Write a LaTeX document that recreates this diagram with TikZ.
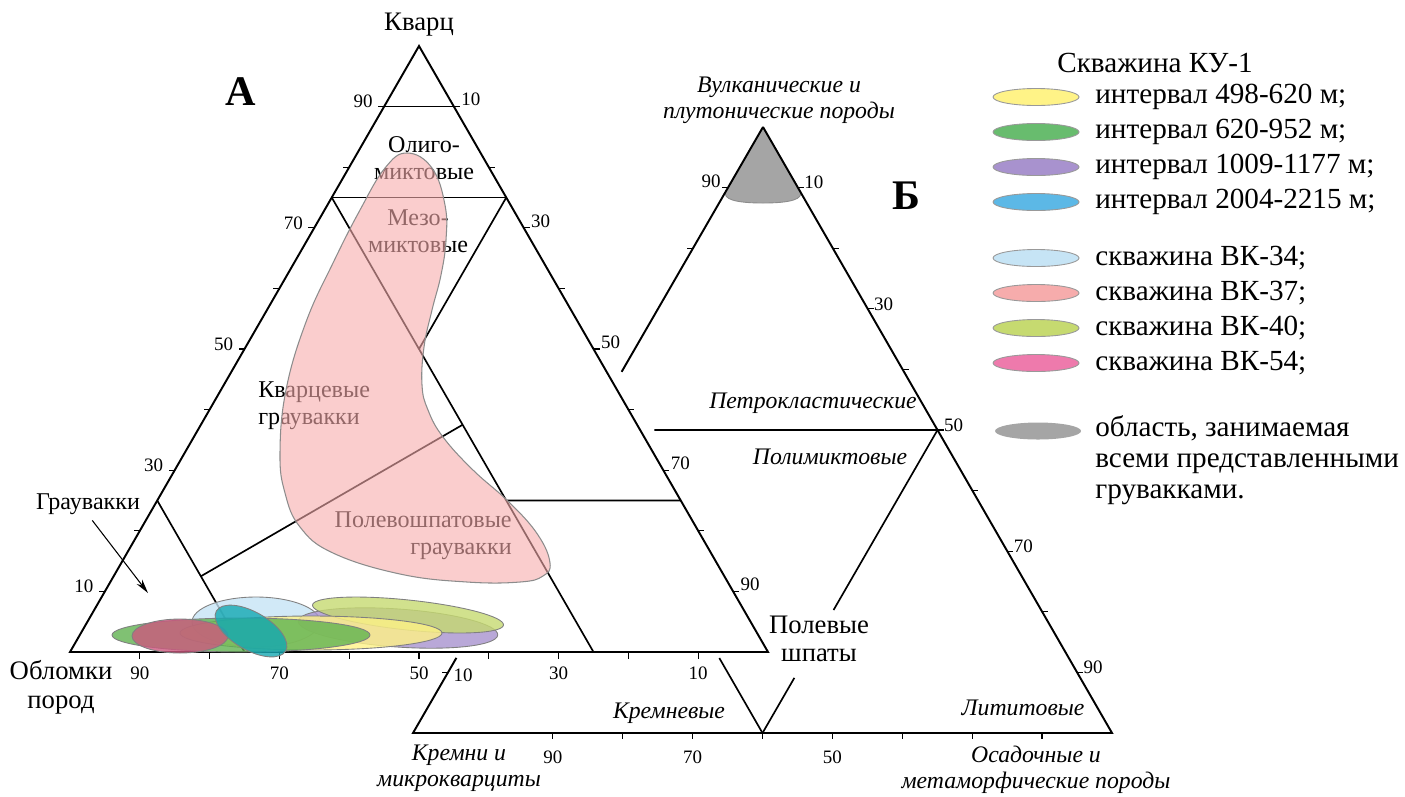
\documentclass[tikz,border=0pt]{standalone}
\usepackage{fontspec}
\setmainfont{Liberation Serif}
\usetikzlibrary{calc,arrows.meta}

\definecolor{ku498}{RGB}{255,243,135}
\definecolor{ku620}{RGB}{104,188,110}
\definecolor{ku1009}{RGB}{168,146,206}
\definecolor{ku2004}{RGB}{92,184,230}
\definecolor{vk34}{RGB}{198,228,245}
\definecolor{vk37}{RGB}{246,172,172}
\definecolor{vk40}{RGB}{198,218,112}
\definecolor{vk54}{RGB}{238,122,172}
\definecolor{allgw}{RGB}{165,165,165}
% tints as they show over the other fields
\definecolor{ku620d}{RGB}{96,178,80}
\definecolor{ku2004d}{RGB}{20,168,178}
\definecolor{vk54d}{RGB}{204,88,126}

\begin{document}
\begin{tikzpicture}[x=0.02cm, y=-0.02cm,
  edge/.style={line width=1.1pt},
  zone/.style={line width=0.95pt},
  tick/.style={line width=0.7pt},
  num/.style={font=\fontsize{10.8}{12}\selectfont, inner sep=0pt},
  field/.style={font=\fontsize{13.7}{15.4}\selectfont, inner sep=0pt},
  corner/.style={font=\fontsize{15.2}{16.3}\selectfont, align=center, inner sep=0pt},
  ital/.style={font=\fontsize{13.5}{15}\selectfont\itshape, align=center, inner sep=0pt},
  leg/.style={font=\fontsize{16.6}{17.5}\selectfont, anchor=west, align=left, inner sep=0pt},
  swatch/.style={draw=black!40, line width=0.5pt},
  blob/.style={draw=black!50, line width=0.5pt, fill opacity=0.8},
  arr/.style={-{Stealth[length=8pt, width=4pt]}, line width=0.6pt, shorten <=4pt}
]
\useasboundingbox (0,0) rectangle (1405,796);

% triangle B (behind A)
\coordinate (Bv) at (763,127);
\coordinate (Bk) at (413,733);
\coordinate (Bs) at (1112,733);
\coordinate (B50l) at ($(Bv)!0.5!(Bk)$);
\coordinate (B50r) at ($(Bv)!0.5!(Bs)$);
\coordinate (Bm) at ($(Bk)!0.5!(Bs)$);
\filldraw[fill=allgw, draw=black!45, line width=0.5pt]
  (Bv) -- (726,191) .. controls (722,199) and (735,203) .. (763,203)
  .. controls (791,203) and (804,199) .. (800,191) -- cycle;
\draw[edge] (Bv) -- (Bs) -- (Bk) -- ($(Bk)!0.124!(Bv)$);
\draw[edge] (Bv) -- ($(Bv)!0.404!(Bk)$);
\draw[zone] ($(B50l)!0.19!(B50r)$) -- (B50r);
\draw[zone] (B50r) -- ($(B50r)!0.594!(Bm)$);
\draw[zone] ($(B50r)!0.818!(Bm)$) -- (Bm);
\draw[zone] (Bm) -- ($(Bm)!0.2475!(B50l)$);

% triangle A
\coordinate (Aq) at (419,46);
\coordinate (Ar) at (70,652);
\coordinate (Af) at (768,652);
\draw[edge] (Aq) -- (Ar) -- (Af) -- cycle;
\coordinate (A75l) at ($(Aq)!0.25!(Ar)$);
\coordinate (A75r) at ($(Aq)!0.25!(Af)$);
\coordinate (A75b) at ($(Ar)!0.75!(Af)$);
\coordinate (A25l) at ($(Aq)!0.75!(Ar)$);
\coordinate (A25r) at ($(Aq)!0.75!(Af)$);
\coordinate (A25b) at ($(Ar)!0.25!(Af)$);
\draw[zone] ($(Aq)!0.1!(Ar)$) -- ($(Aq)!0.1!(Af)$);
\draw[zone] (A75l) -- (A75r);
\draw[zone] (A75l) -- (A75b);
\draw[zone] (A75r) -- ($(A75l)!1/3!(A75b)$);
\draw[zone] (A25l) -- (A25b);
\draw[zone] ($(A75l)!0.5!(A75b)$) -- ($(A25l)!0.5!(A25b)$);
\draw[zone] ($(A75l)!2/3!(A75b)$) -- (A25r);

% ticks of A
\foreach \i in {1,...,9}{
  \coordinate (al\i) at ($(Aq)!\i/10!(Ar)$);
  \coordinate (ar\i) at ($(Aq)!\i/10!(Af)$);
  \coordinate (ab\i) at ($(Ar)!\i/10!(Af)$);
  \draw[tick] (al\i) -- ++(-6,0);
  \draw[tick] (ar\i) -- ++(6,0);
  \draw[tick] (ab\i) -- ++(0,7);
}
\foreach \i/\v in {1/90,3/70,5/50,7/30,9/10}{
  \node[num] (alab\v) at ($(al\i)+(-21,-5)$) {\v};
  \node[num] (blab\v) at ($(ab\i)+(0,21)$) {\v};
}
\foreach \i/\v in {1/10,3/30,5/50,7/70,9/90}
  \node[num] (arlab\v) at ($(ar\i)+(17,-7)$) {\v};

% ticks of B
\foreach \i in {1,...,9}{
  \coordinate (br\i) at ($(Bv)!\i/10!(Bs)$);
  \draw[tick] (br\i) -- ++(6,0);
}
\foreach \i/\v in {1/10,3/30,5/50,7/70,9/90}
  \node[num] (brlab\v) at ($(br\i)+(16,-5)$) {\v};
\foreach \i in {2,...,9}{
  \coordinate (bb\i) at ($(Bk)!\i/10!(Bs)$);
  \draw[tick] (bb\i) -- ++(0,6);
}
\foreach \i/\v in {2/90,4/70,6/50}
  \node[num] (bblab\v) at ($(bb\i)+(0,24)$) {\v};
\foreach \i in {1,2,9}{
  \coordinate (bl\i) at ($(Bv)!\i/10!(Bk)$);
  \draw[tick] (bl\i) -- ++(-6,0);
}
\node[num] (bllab90) at ($(bl1)+(-17,-6)$) {90};
\node[num] (bllab10) at ($(bl9)+(15,3)$) {10};

% field names of A
\node[field, align=center] (olig) at (424,158) {Олиго-\\миктовые};
\node[field, align=center] (mezo) at (418,231) {Мезо-\\миктовые};
\node[field, align=left, anchor=west] (qgw) at (258,406) {Кварцевые\\граувакки};
\node[field, align=right, anchor=east] (fgw) at (512,536) {Полевошпатовые\\граувакки};
\node[field] (grw) at (88,504) {Граувакки};
\coordinate (grwtip) at (148,593);
\draw[arr] (grw.south) -- (grwtip);

% corners
\node[corner] (quartz) at (419,25) {Кварц};
\node[corner] (debris) at (61,687) {Обломки\\пород};
\node[corner] (fsp) at (819,639) {Полевые\\шпаты};
\node[font=\fontsize{24}{24}\selectfont\bfseries] (labA) at (241,92) {А};
\node[font=\fontsize{24}{24}\selectfont\bfseries] (labB) at (906,196) {Б};

% fields and corners of B
\node[ital] (volc) at (779,100) {Вулканические и\\плутонические породы};
\node[ital] (chert) at (459,768) {Кремни и\\микрокварциты};
\node[ital] (sedm) at (1036,770) {Осадочные и\\метаморфические породы};
\node[ital] (petro) at (813,403) {Петрокластические};
\node[ital] (polym) at (830,457) {Полимиктовые};
\node[ital] (kremn) at (669,713) {Кремневые};
\node[ital] (litit) at (1023,708) {Лититовые};

% sample fields
\filldraw[fill=vk37, fill opacity=0.6, draw=black!45, line width=0.6pt]
  plot[smooth cycle, tension=0.7] coordinates {
  (407,153) (432,168) (445,205) (446,240) (441,275) (432,310) (424,347)
  (422,385) (428,410) (443,437) (473,470) (510,503) (538,535) (550,563)
  (543,576) (520,582) (467,582) (400,574) (333,553) (300,527) (285,493)
  (280,453) (286,390) (306,322) (333,263) (360,210) (385,168)};
\begin{scope}[blob]
  \filldraw[fill=vk34] (256,622) ellipse [x radius=64, y radius=25];
  \filldraw[fill=ku1009, rotate around={-4:(398,628)}] (398,628) ellipse [x radius=100, y radius=19];
  \filldraw[fill=vk40, rotate around={-6:(408,615)}] (408,615) ellipse [x radius=96, y radius=15];
  \filldraw[fill=ku498] (311,633) ellipse [x radius=131, y radius=17];
  \filldraw[fill=ku620d] (241,635) ellipse [x radius=129, y radius=17];
  \filldraw[fill=vk54d] (180,636) ellipse [x radius=48, y radius=17];
  \filldraw[fill=ku2004d, rotate around={-30:(251,631)}] (251,631) ellipse [x radius=40, y radius=19];
\end{scope}

% legend
\node[leg] (wellku) at (1057,63) {Скважина КУ-1};
\foreach \yy/\c/\t in {97/ku498/интервал 498-620 м;, 132/ku620/интервал 620-952 м;,
    167/ku1009/интервал 1009-1177 м;, 202/ku2004/интервал 2004-2215 м;,
    258/vk34/скважина ВК-34;, 293/vk37/скважина ВК-37;,
    328/vk40/скважина ВК-40;, 363/vk54/скважина ВК-54;}{
  \filldraw[swatch, fill=\c] (1036,\yy) ellipse [x radius=43, y radius=8.5];
  \node[leg] (leg\yy) at (1095,\yy) {\t};
}
\fill[allgw] (1038,431) ellipse [x radius=43, y radius=8.5];
\node[leg] (legall) at (1095,460)
  {область, занимаемая\\всеми представленными\\грувакками.};
\end{tikzpicture}
\end{document}
